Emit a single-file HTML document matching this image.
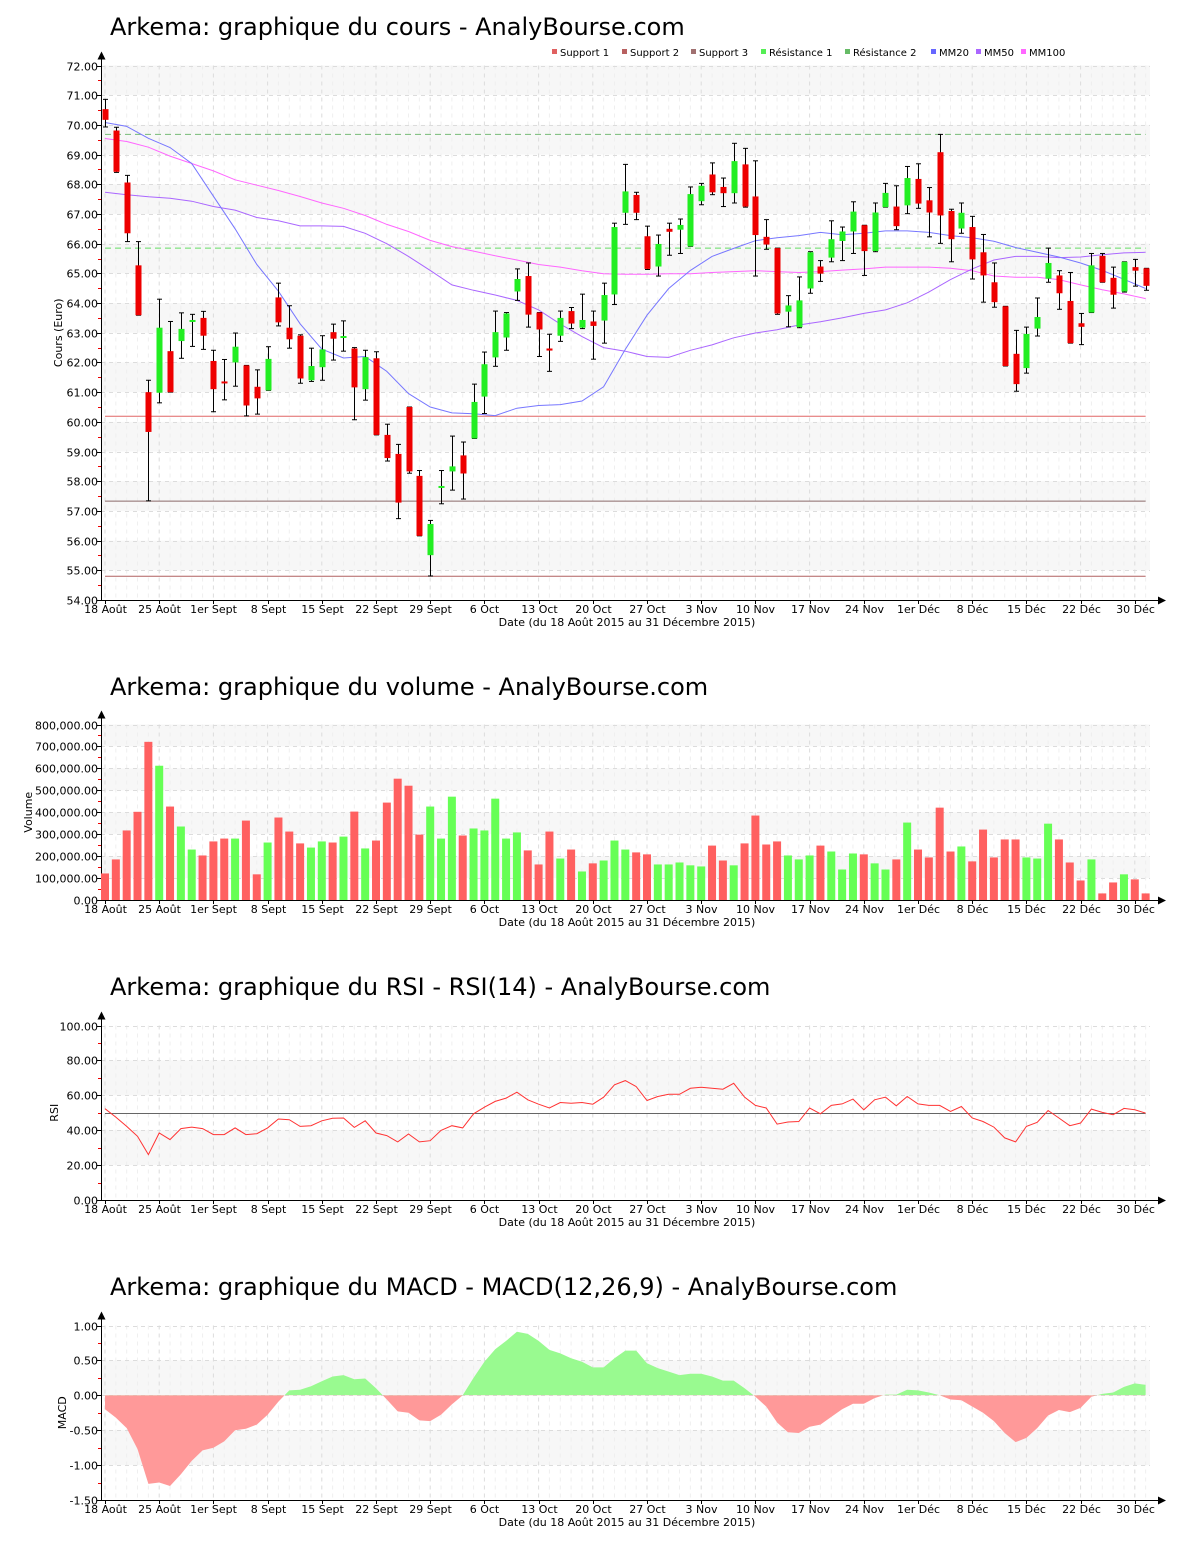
<!DOCTYPE html>
<html><head><meta charset="utf-8"><title>Arkema</title>
<style>
html,body{margin:0;padding:0;background:#fff;}
svg{display:block;font-family:"DejaVu Sans","Liberation Sans",sans-serif;}
</style></head>
<body>
<svg id="root" width="1200" height="1550" viewBox="0 0 1200 1550" xmlns="http://www.w3.org/2000/svg"></svg>
<script>
// ---------- DATA ----------
const dateTickIdx = [0,5,10,15,20,25,30,35,40,45,50,55,60,65,70,75,80,85,90,95];
const dateTickLabels = ["18 Août","25 Août","1er Sept","8 Sept","15 Sept","22 Sept","29 Sept","6 Oct","13 Oct","20 Oct","27 Oct","3 Nov","10 Nov","17 Nov","24 Nov","1er Déc","8 Déc","15 Déc","22 Déc","30 Déc"];
const openP = [70.53,69.81,68.06,65.27,61.0,60.98,62.38,62.72,63.37,63.5,62.05,61.36,62.0,61.9,61.18,61.06,64.19,63.17,62.9,61.4,61.84,63.02,62.83,62.47,61.1,62.14,59.56,58.92,60.5,58.18,55.51,57.79,58.33,58.87,59.44,60.85,62.17,62.84,64.39,64.91,63.68,62.47,62.9,63.73,63.17,63.38,63.41,64.29,67.04,67.64,66.25,65.23,66.5,66.47,65.91,67.43,68.33,67.91,67.7,68.67,67.59,66.23,65.85,63.71,63.19,64.49,65.23,65.53,66.09,66.41,66.62,65.75,67.23,67.25,67.29,68.18,67.46,69.08,67.1,66.51,66.56,65.71,64.7,63.89,62.29,61.81,63.14,64.82,64.93,64.07,63.32,63.68,65.59,64.85,64.39,65.21,65.17];
const closeP = [70.17,68.42,66.35,63.59,59.66,63.17,61.0,63.13,63.43,62.9,61.1,61.33,62.53,60.55,60.79,62.12,63.35,62.78,61.46,61.88,62.44,62.8,62.89,61.16,62.18,59.56,58.78,57.28,58.33,56.16,56.56,57.84,58.5,58.26,60.67,61.94,63.02,63.65,64.81,63.61,63.11,62.4,63.5,63.31,63.43,63.23,64.27,66.56,67.76,67.04,65.15,65.99,66.4,66.63,67.67,67.95,67.73,67.7,68.78,67.25,66.29,65.97,63.65,63.92,64.09,65.71,64.99,66.15,66.41,67.08,65.75,67.05,67.71,66.59,68.21,67.35,67.05,66.95,66.15,67.04,65.47,64.93,64.03,61.88,61.27,62.96,63.53,65.35,64.33,62.65,63.2,65.27,64.7,64.28,65.39,65.09,64.58];
const highP = [70.86,69.92,68.3,66.07,61.4,64.13,63.38,63.67,63.62,63.72,62.41,62.1,62.99,61.9,61.75,62.53,64.67,63.91,62.93,62.48,62.9,63.29,63.4,62.5,62.41,62.36,59.92,59.24,60.5,58.36,56.68,58.36,59.52,59.32,61.27,62.35,63.73,63.68,65.15,65.35,63.68,62.95,63.73,63.85,64.3,63.73,64.67,66.69,68.67,67.73,66.59,66.29,66.69,66.83,67.91,68.03,68.72,68.21,69.38,69.21,68.79,66.81,65.85,64.25,64.88,65.73,65.43,66.77,66.56,67.41,66.62,67.37,68.03,67.95,68.6,68.69,67.89,69.68,67.16,67.37,66.92,66.31,65.35,63.89,63.08,63.19,64.17,65.85,65.09,65.03,63.65,65.67,65.67,65.21,65.39,65.47,65.17];
const lowP = [69.93,68.4,66.07,63.59,57.34,60.64,61.0,62.14,62.54,62.44,60.34,60.74,61.2,60.2,60.26,61.06,63.23,62.48,61.3,61.36,61.4,62.08,62.38,60.07,60.73,59.56,58.68,56.74,58.27,56.16,54.81,57.24,57.7,57.4,59.44,60.28,61.87,62.41,64.09,63.19,62.2,61.7,62.71,63.14,63.14,62.11,62.65,63.95,66.65,66.81,65.13,64.91,65.61,65.67,65.91,67.31,67.65,67.25,67.37,67.23,64.91,65.81,63.62,63.2,63.17,64.33,64.73,65.39,65.43,65.67,64.93,65.73,67.23,66.47,67.01,67.19,66.23,66.01,65.39,66.35,64.81,64.03,63.86,61.88,61.03,61.64,62.89,64.7,63.79,62.65,62.6,63.68,64.7,63.83,64.37,64.57,64.43];
const maIdx = [0,2,4,6,8,10,12,14,16,18,20,22,24,26,28,30,32,34,36,38,40,42,44,46,48,50,52,54,56,58,60,62,64,66,68,70,72,74,76,78,80,82,84,86,88,90,92,94,96];
const mm20 = [70.08,69.95,69.55,69.24,68.7,67.6,66.5,65.3,64.4,63.3,62.45,62.15,62.2,61.7,60.95,60.5,60.3,60.27,60.21,60.46,60.55,60.58,60.7,61.18,62.44,63.59,64.49,65.1,65.57,65.84,66.1,66.2,66.27,66.38,66.3,66.35,66.43,66.43,66.38,66.27,66.2,66.08,65.87,65.71,65.55,65.35,65.1,64.8,64.49];
const mm50 = [67.73,67.65,67.58,67.53,67.43,67.25,67.13,66.88,66.77,66.6,66.6,66.58,66.35,66.0,65.57,65.1,64.61,64.43,64.27,64.09,63.77,63.29,62.87,62.5,62.38,62.2,62.17,62.41,62.59,62.83,62.99,63.1,63.26,63.37,63.5,63.65,63.77,64.01,64.37,64.79,65.15,65.45,65.57,65.57,65.53,65.55,65.63,65.69,65.71];
const mm100 = [69.54,69.44,69.25,68.95,68.7,68.45,68.15,67.97,67.79,67.59,67.37,67.19,66.95,66.65,66.41,66.11,65.9,65.75,65.59,65.45,65.3,65.21,65.09,64.99,64.97,64.97,64.99,64.99,65.03,65.06,65.09,65.06,65.03,65.06,65.11,65.15,65.21,65.21,65.21,65.17,65.09,64.91,64.87,64.87,64.79,64.61,64.45,64.31,64.15];
const supportLevels = [60.19,57.33,54.8];
const resistanceLevels = [65.85,69.68];
const volumeK = [121,185,317,402,721,612,426,335,230,203,267,280,280,362,117,262,376,312,258,239,267,262,289,403,235,271,444,553,521,298,426,280,471,294,326,317,462,280,308,226,162,312,189,230,130,167,180,271,230,217,208,162,162,171,158,153,248,180,158,258,385,253,267,203,185,203,248,221,139,212,208,167,139,185,353,230,194,421,221,244,176,321,194,276,276,194,189,348,276,171,89,185,30,80,117,94,30];
const volumeUp = [0,0,0,0,0,1,0,1,1,0,0,0,1,0,0,1,0,0,0,1,1,0,1,0,1,0,0,0,0,0,1,1,1,0,1,1,1,1,1,0,0,0,1,0,1,0,1,1,1,0,0,1,1,1,1,1,0,0,1,0,0,0,0,1,1,1,0,1,1,1,0,1,1,0,1,0,0,0,0,1,0,0,0,0,0,1,1,1,0,0,0,1,0,0,1,0,0];
const rsi = [52.3,47.5,42.2,36.5,26,38.4,34.6,40.9,41.8,40.9,37.5,37.5,41.3,37.5,38,41.3,46.4,46,42.2,42.6,45.4,46.8,47,41.6,45.4,38.4,36.9,33.3,37.8,33.3,34,39.9,42.6,41.3,49.4,53.2,56.5,58.4,61.8,57.4,54.9,52.7,55.9,55.5,55.9,54.9,58.9,66,68.4,65,57,59.3,60.6,60.6,64,64.6,64,63.5,66.9,58.9,54.2,52.7,43.5,44.7,45,52.7,49.4,54.2,55.1,57.8,51.7,57.4,58.9,54,59.3,55.1,54.2,54.2,50.8,53.6,47,45,41.8,35.6,33.3,42.2,44.5,51.3,47,42.6,44.1,52.1,50.2,48.9,52.5,51.7,49.8];
const macd = [-0.20,-0.32,-0.47,-0.77,-1.27,-1.25,-1.30,-1.13,-0.94,-0.79,-0.75,-0.66,-0.50,-0.48,-0.42,-0.28,-0.09,0.07,0.08,0.13,0.20,0.27,0.29,0.23,0.24,0.10,-0.06,-0.23,-0.25,-0.36,-0.37,-0.28,-0.13,0.0,0.25,0.48,0.66,0.78,0.91,0.88,0.78,0.65,0.60,0.53,0.48,0.40,0.40,0.53,0.64,0.64,0.46,0.39,0.34,0.29,0.31,0.31,0.27,0.21,0.21,0.10,-0.02,-0.16,-0.39,-0.53,-0.54,-0.45,-0.42,-0.31,-0.20,-0.12,-0.12,-0.04,0.01,0.01,0.08,0.07,0.04,0.0,-0.06,-0.07,-0.16,-0.25,-0.37,-0.54,-0.67,-0.61,-0.47,-0.29,-0.21,-0.24,-0.18,-0.02,0.02,0.04,0.12,0.17,0.15];

// ---------- HELPERS ----------
const NS = "http://www.w3.org/2000/svg";
const root = document.getElementById('root');
function el(tag, attrs, parent){
  const e = document.createElementNS(NS, tag);
  for (const k in attrs) e.setAttribute(k, attrs[k]);
  (parent || root).appendChild(e);
  return e;
}
const X0 = 105, DX = 10.84, PL = 101, PR = 1150;
function xAt(i){ return X0 + i * DX; }
function makeY(top, bottom, vmin, vmax){ return v => bottom - (v - vmin) / (vmax - vmin) * (bottom - top); }

function drawFrame(cfg){
  const g = el('g', {});
  
  
  const y = cfg.y;
  const t = el('text', {x:110, y:cfg.titleY, 'font-size':24, fill:'#000'}, g);
  t.textContent = cfg.title;
  
  
  for (let v = cfg.vmin; v < cfg.vmax - 1e-9; v += cfg.step){
    const k = Math.round((v - cfg.vmin) / cfg.step);
    if (k % 2 === cfg.bandParity){
      const b = el('rect', {x:PL+1, y:y(v+cfg.step), width:PR-PL-1, height:y(v)-y(v+cfg.step), fill:'#f7f7f7'}, g);
      
      
    }
  }
  for (let i = 0; i < 97; i++){
    const isTick = dateTickIdx.indexOf(i) >= 0;
    const vl = el('line', {x1:xAt(i), x2:xAt(i), y1:y(cfg.vmax), y2:cfg.bottom, stroke: isTick ? '#dcdcdc' : '#efefef', 'stroke-dasharray':'4,4', 'stroke-width':1}, g);
    
    
  }
  for (let v = cfg.vmin; v <= cfg.vmax + 1e-9; v += cfg.step){
    const yy = Math.round(y(v)) + 0.5;
    const hl = el('line', {x1:PL, x2:PR, y1:yy, y2:yy, stroke:'#dcdcdc', 'stroke-dasharray':'4,4'}, g);
    
    
    el('line', {x1:PL-4, x2:PL, y1:yy, y2:yy, stroke:'#000'}, g);
    const lb = el('text', {x:PL-3, y:yy+4, 'font-size':11, 'text-anchor':'end', fill:'#000'}, g);
    lb.textContent = cfg.fmt(v);
    
    
    if (v + cfg.step / 2 < cfg.vmax){
      const my = Math.round(y(v + cfg.step/2)) + 0.5;
      el('line', {x1:PL-3, x2:PL, y1:my, y2:my, stroke:'#e00'}, g);
    }
  }
  const ya = el('line', {x1:PL+0.5, x2:PL+0.5, y1:y(cfg.vmax)-8, y2:cfg.bottom+0.5, stroke:'#000'}, g);
  
  
  el('path', {d:`M${PL+0.5-4},${y(cfg.vmax)-6} L${PL+0.5},${y(cfg.vmax)-14} L${PL+0.5+4},${y(cfg.vmax)-6} Z`, fill:'#000'}, g);
  const xa = el('line', {x1:PL, x2:1160, y1:cfg.bottom+0.5, y2:cfg.bottom+0.5, stroke:'#000'}, g);
  
  
  el('path', {d:`M1158,${cfg.bottom-3.5} L1166,${cfg.bottom+0.5} L1158,${cfg.bottom+4.5} Z`, fill:'#000'}, g);
  dateTickIdx.forEach((ix, k) => {
    const xx = Math.round(xAt(ix)) + 0.5;
    el('line', {x1:xx, x2:xx, y1:cfg.bottom, y2:cfg.bottom+4, stroke:'#000'}, g);
    const tl = el('text', {x:xx, y:cfg.bottom+13, 'font-size':11, 'text-anchor':'middle', fill:'#000'}, g);
    tl.textContent = dateTickLabels[k];
    
    
  });
  const xt = el('text', {x:627, y:cfg.bottom+26, 'font-size':11, 'text-anchor':'middle', fill:'#000'}, g);
  xt.textContent = 'Date (du 18 Août 2015 au 31 Décembre 2015)';
  
  
  const mid = (y(cfg.vmax) + cfg.bottom) / 2;
  const yt = el('text', {x:cfg.yTitleX, y:mid, 'font-size':11, 'text-anchor':'middle', fill:'#000', transform:`rotate(-90 ${cfg.yTitleX} ${mid})`}, g);
  yt.textContent = cfg.yTitle;
  
  
  return g;
}

// ---------- PRICE PANEL ----------
const yP = makeY(65.5, 600, 54, 72);
const gP = drawFrame({name:'price', title:'Arkema: graphique du cours - AnalyBourse.com', titleY:35, y:yP, bottom:600, vmin:54, vmax:72, step:1, bandParity:1, fmt:v=>v.toFixed(2), yTitle:'Cours (Euro)', yTitleX:62});

const supColors = ['#e06666','#8a6a6a','#b06060'];
supportLevels.forEach((lv, k) => {
  const l = el('line', {x1:xAt(0), x2:xAt(96), y1:yP(lv), y2:yP(lv), stroke:supColors[k], 'stroke-width':1}, gP);
  
  
});
const resColors = ['#66dd66','#77bb77'];
resistanceLevels.forEach((lv, k) => {
  const l = el('line', {x1:xAt(0), x2:xAt(96), y1:yP(lv), y2:yP(lv), stroke:resColors[k], 'stroke-dasharray':'6,4', 'stroke-width':1}, gP);
  
  
});
function maPath(arr){ return maIdx.map((ix, k) => (k ? 'L' : 'M') + xAt(ix).toFixed(1) + ',' + yP(arr[k]).toFixed(1)).join(' '); }
const ma100 = el('path', {d:maPath(mm100), fill:'none', stroke:'#ff66ff', 'stroke-width':1}, gP);


const ma50 = el('path', {d:maPath(mm50), fill:'none', stroke:'#aa66ff', 'stroke-width':1}, gP);


const ma20 = el('path', {d:maPath(mm20), fill:'none', stroke:'#7777ff', 'stroke-width':1}, gP);



for (let i = 0; i < openP.length; i++){
  const cx = Math.round(xAt(i)) + 0.5;
  const wick = el('line', {x1:cx, x2:cx, y1:yP(highP[i]), y2:yP(lowP[i]), stroke:'#000'}, gP);
  
  
  el('line', {x1:cx-2.5, x2:cx+2.5, y1:yP(highP[i]), y2:yP(highP[i]), stroke:'#000'}, gP);
  el('line', {x1:cx-2.5, x2:cx+2.5, y1:yP(lowP[i]), y2:yP(lowP[i]), stroke:'#000'}, gP);
  const up = closeP[i] >= openP[i];
  const top = yP(Math.max(openP[i], closeP[i])), bot = yP(Math.min(openP[i], closeP[i]));
  const body = el('rect', {x:cx-3, y:top, width:6, height:Math.max(2, bot-top), fill: up ? '#22ee22' : '#ee0000'}, gP);
  
  
}

const legendItems = [['Support 1','#e06060',552],['Support 2','#b86060',622],['Support 3','#a07070',691],['Résistance 1','#55ee55',761],['Résistance 2','#66bb66',845],['MM20','#6666ff',931],['MM50','#aa66ff',976],['MM100','#ff66ff',1021]];
const lg = el('g', {}, gP);


legendItems.forEach(it => {
  const sq = el('rect', {x:it[2], y:49, width:5, height:5, fill:it[1]}, lg);
  
  
  const tx = el('text', {x:it[2]+8, y:56, 'font-size':10, fill:'#000'}, lg);
  tx.textContent = it[0];
  
  
});

// ---------- VOLUME PANEL ----------
const yV = makeY(724.5, 900, 0, 800);
const gV = drawFrame({name:'volume', title:'Arkema: graphique du volume - AnalyBourse.com', titleY:695, y:yV, bottom:900, vmin:0, vmax:800, step:100, bandParity:1, fmt:v=>(v*1000).toLocaleString('en-US')+'.00', yTitle:'Volume', yTitleX:32});
for (let i = 0; i < volumeK.length; i++){
  const cx = xAt(i);
  const b = el('rect', {x:cx-4, y:yV(volumeK[i]), width:8, height:900-yV(volumeK[i]), fill: volumeUp[i] ? '#66ff55' : '#ff6060'}, gV);
  
  
}

// ---------- RSI PANEL ----------
const yR = makeY(1025.5, 1200, 0, 100);
const gR = drawFrame({name:'rsi', title:'Arkema: graphique du RSI - RSI(14) - AnalyBourse.com', titleY:995, y:yR, bottom:1200, vmin:0, vmax:100, step:20, bandParity:1, fmt:v=>v.toFixed(2), yTitle:'RSI', yTitleX:58});
const r50 = el('line', {x1:xAt(0), x2:xAt(96), y1:Math.round(yR(50))+0.5, y2:Math.round(yR(50))+0.5, stroke:'#666'}, gR);


const rp = el('path', {d: rsi.map((v,i)=>(i?'L':'M')+xAt(i).toFixed(1)+','+yR(v).toFixed(1)).join(' '), fill:'none', stroke:'#ff3333', 'stroke-width':1}, gR);



// ---------- MACD PANEL ----------
const yM = makeY(1325.5, 1500, -1.5, 1.0);
const gM = drawFrame({name:'macd', title:'Arkema: graphique du MACD - MACD(12,26,9) - AnalyBourse.com', titleY:1295, y:yM, bottom:1500, vmin:-1.5, vmax:1.0, step:0.5, bandParity:1, fmt:v=>v.toFixed(2), yTitle:'MACD', yTitleX:66});
const defs = el('defs', {}, gM);
const cpUp = el('clipPath', {id:'cpUp'}, defs);
el('rect', {x:0, y:0, width:1200, height:yM(0)}, cpUp);
const cpDn = el('clipPath', {id:'cpDn'}, defs);
el('rect', {x:0, y:yM(0), width:1200, height:400}, cpDn);
const areaD = 'M' + xAt(0) + ',' + yM(0) + ' ' + macd.map((v,i)=>'L'+xAt(i).toFixed(1)+','+yM(v).toFixed(1)).join(' ') + ' L' + xAt(macd.length-1) + ',' + yM(0) + ' Z';
const aUp = el('path', {d:areaD, fill:'#99fa90', 'clip-path':'url(#cpUp)'}, gM);


const aDn = el('path', {d:areaD, fill:'#ff9999', 'clip-path':'url(#cpDn)'}, gM);


</script>
</body></html>
